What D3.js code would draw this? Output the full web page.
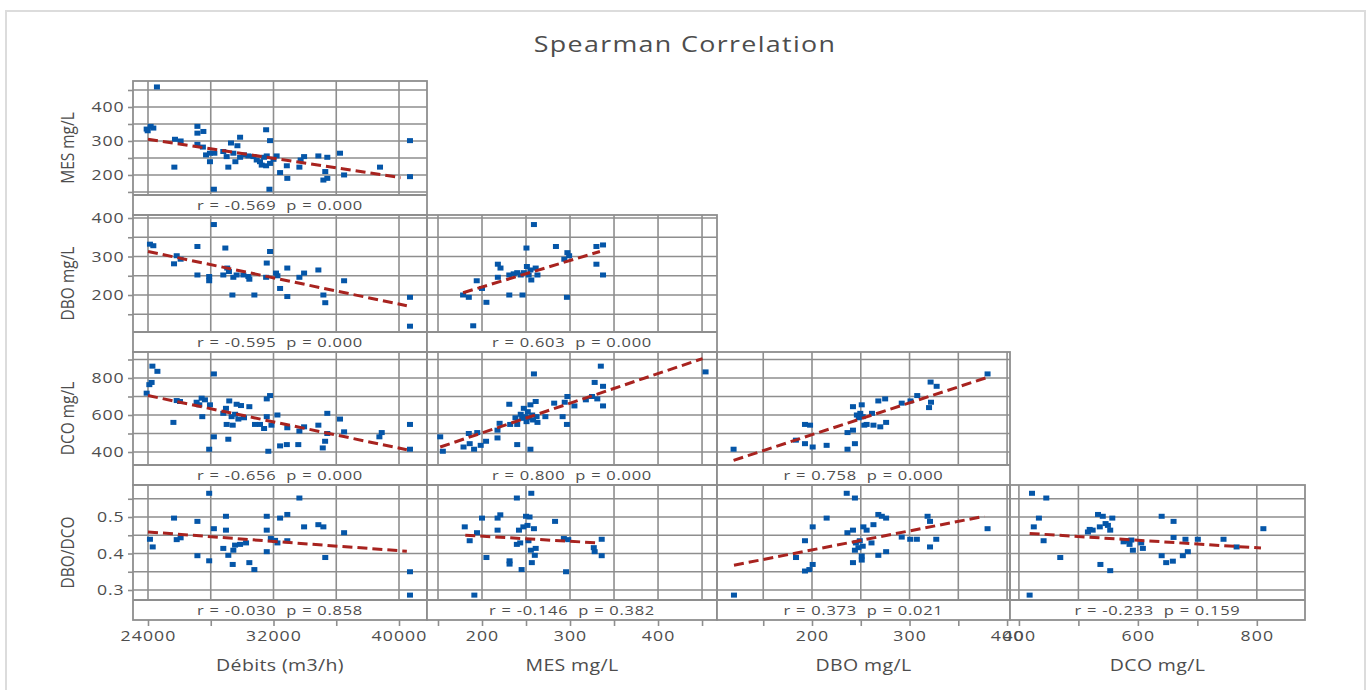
<!DOCTYPE html>
<html><head><meta charset="utf-8">
<script src="https://cdn.jsdelivr.net/npm/d3@7"></script>
<style>
body{margin:0;background:#fff}
svg{display:block}
text{font-family:"Open Sans",sans-serif;fill:#4d4d4d}
</style>
</head><body>
<svg id="chart" width="1371" height="690"></svg>
<script>
// ---------- chart data ----------
const chartTitle = "Spearman Correlation";
const colTitles = ["Débits (m3/h)", "MES mg/L", "DBO mg/L", "DCO mg/L"];
const rowTitles = ["MES mg/L", "DBO mg/L", "DCO mg/L", "DBO/DCO"];

const colDomains = [[23044, 41785], [137.5, 467], [102.6, 403], [385, 881]];
const rowDomains = [[141, 476.5], [103.9, 407.8], [329.7, 940.5], [0.2726, 0.5877]];

const colGrid = [[24000, 28000, 32000, 36000, 40000], [150, 200, 250, 300, 350, 400, 450], [150, 200, 250, 300, 350, 400], [400, 500, 600, 700, 800]];
const colTickLabels = [[24000, 32000, 40000], [200, 300, 400], [200, 300, 400], [400, 600, 800]];
const rowGrid = [[150, 200, 250, 300, 350, 400, 450], [150, 200, 250, 300, 350, 400], [400, 500, 600, 700, 800, 900], [0.3, 0.35, 0.4, 0.45, 0.5, 0.55]];
const rowTickLabels = [[200, 300, 400], [200, 300, 400], [400, 600, 800], [0.3, 0.4, 0.5]];

// scatter pairs [x, y]
const ptsMesDeb = [[24570,459],[23915,335],[24170,343],[24340,338],[23980,330],[25680,223],[25720,305],[26080,300],[27150,343],[27150,323],[27530,328],[27150,290],[27500,282],[27700,259],[27950,264],[27950,239],[28200,158],[28230,264],[28800,269],[29015,254],[29120,223],[29290,294],[29440,264],[29570,239],[29700,286],[29870,311],[29870,252],[30120,259],[30400,256],[30720,254],[30930,244],[31140,239],[31250,229],[31400,252],[31530,333],[31530,227],[31570,256],[31740,158],[31780,301],[31780,234],[32000,246],[32200,256],[32420,207],[32850,227],[32880,190],[33650,223],[33730,244],[33950,254],[34860,256],[35180,185],[35300,210],[35430,252],[35430,190],[36240,264],[36500,200],[38790,223],[40700,301],[40700,195]];
const ptsDboDeb = [[24125,332],[24340,328],[25660,281],[25830,302],[26080,293],[27150,326],[27150,252],[27900,248],[27900,237],[28200,383],[28800,252],[28930,322],[29050,270],[29160,261],[29380,200],[29440,246],[29650,252],[30080,252],[30400,248],[30460,241],[30780,200],[31570,283],[31530,246],[31780,313],[32160,257],[32250,250],[32420,217],[32880,270],[32880,196],[33650,246],[33950,257],[34860,265],[35180,200],[35300,180],[36500,237],[40700,194],[40700,119]];
const ptsDboMes = [[178.5,200],[185,194],[190,120],[194,237],[200,217],[205,181],[218,280],[221,270],[218,246],[231,252],[231,200],[236,255],[240,258],[244,252],[246,200],[247.5,258],[250.5,322],[251,274],[253,252],[255,265],[256,239],[259,383],[261,270],[263,252],[284,326],[297,310],[296.5,194],[299,302],[293.5,293],[330,326],[330,280],[337.5,330],[337.5,252]];
const ptsDcoDeb = [[23915,718],[24085,764],[24230,776],[24280,864],[24600,836],[25620,560],[25830,678],[26040,673],[27100,669],[27270,655],[27420,691],[27460,591],[27630,682],[27950,655],[27900,415],[28200,822],[28200,482],[28800,609],[28970,636],[29015,549],[29120,469],[29180,676],[29330,591],[29400,545],[29550,604],[29650,658],[29760,578],[29930,651],[30120,585],[30460,645],[30820,549],[31140,549],[31400,527],[31570,687],[31570,591],[31670,404],[31780,705],[31870,545],[32250,600],[32420,433],[32850,440],[32880,531],[33580,440],[33650,513],[33950,536],[34860,545],[35140,422],[35290,458],[35430,609],[35430,500],[36240,578],[36500,509],[38750,482],[38900,505],[40700,549],[40700,415]];
const ptsDcoMes = [[152.5,482],[155.5,404],[179,427],[185,500],[186,445],[191,415],[194.6,505],[198.5,436],[204.6,458],[217.6,518],[217.6,476],[220,555],[231,658],[232,549],[238,585],[240,440],[240,549],[244,604],[245.6,582],[247.5,636],[249.4,591],[250.6,564],[252,618],[253,585],[255,415],[255,655],[257,600],[258,573],[259,822],[261,673],[262,591],[263,560],[272,591],[282,664],[291.6,591],[294,669],[296.5,549],[297,700],[305,649],[318,682],[325,700],[328,776],[331,687],[335,864],[337.5,755],[337.5,649],[454,833]];
const ptsDcoDbo = [[119.6,415],[183.5,464],[192.8,549],[198,545],[192.8,445],[200.7,427],[215,436],[236.4,415],[236.4,505],[242,518],[244,445],[242,645],[251,655],[246,600],[248,585],[249.5,609],[252,591],[253.6,545],[256,549],[261.5,609],[263,545],[268,676],[270,536],[275,687],[276,560],[292,664],[301,676],[307.9,705],[320,640],[322,669],[321.6,778],[327.8,755],[380,822]];
const ptsRatioDeb = [[24125,0.439],[24300,0.418],[25660,0.497],[25830,0.438],[26080,0.443],[27150,0.488],[27150,0.394],[27900,0.565],[27900,0.380],[28200,0.468],[28800,0.414],[28970,0.502],[28970,0.464],[29120,0.395],[29400,0.370],[29440,0.409],[29550,0.423],[29870,0.425],[30250,0.429],[30460,0.375],[30780,0.356],[31570,0.502],[31570,0.464],[31570,0.405],[31830,0.441],[32100,0.436],[32250,0.429],[32420,0.497],[32880,0.507],[32880,0.435],[33650,0.552],[33950,0.473],[34860,0.479],[35180,0.473],[35300,0.389],[36500,0.457],[40700,0.350],[40700,0.286]];
const ptsRatioMes = [[180.4,0.473],[186,0.435],[191.3,0.286],[194.3,0.457],[200,0.497],[205,0.389],[217.7,0.464],[217.7,0.497],[220.8,0.506],[231.3,0.380],[231.3,0.371],[239.6,0.552],[239.6,0.425],[242,0.464],[243.4,0.429],[245,0.356],[247,0.473],[250,0.502],[251.7,0.477],[252.8,0.435],[254,0.500],[255.5,0.409],[256,0.565],[256.6,0.375],[259,0.468],[260,0.395],[261,0.414],[283,0.488],[293,0.441],[295.5,0.350],[298,0.438],[327,0.416],[328,0.405],[336,0.439],[336,0.394]];
const ptsRatioDbo = [[120,0.286],[183.6,0.389],[192.8,0.435],[192.8,0.352],[197.3,0.356],[200.7,0.370],[200.7,0.473],[215,0.497],[235.6,0.565],[244,0.552],[236.3,0.457],[242,0.464],[242,0.375],[245,0.429],[244,0.409],[247.6,0.416],[249,0.435],[251,0.393],[251,0.382],[252.7,0.473],[256,0.464],[252,0.420],[261,0.429],[263,0.479],[268,0.395],[268,0.507],[271.6,0.502],[276,0.497],[276,0.405],[292,0.445],[300.7,0.439],[307.5,0.439],[318.5,0.502],[321,0.488],[321,0.418],[327.4,0.439],[380,0.468]];
const ptsRatioDco = [[418,0.286],[422,0.565],[425,0.473],[433.6,0.497],[441.5,0.435],[446,0.552],[469.5,0.389],[516,0.459],[519,0.466],[524,0.464],[533,0.507],[536,0.473],[537,0.370],[541,0.502],[545.7,0.482],[549.6,0.477],[553.5,0.464],[553.5,0.353],[557,0.497],[576,0.432],[583,0.435],[586,0.425],[591.6,0.409],[589,0.437],[605.6,0.429],[608.4,0.414],[640,0.502],[640,0.394],[647.6,0.375],[658.8,0.379],[660,0.488],[660,0.444],[675.6,0.394],[680,0.439],[684,0.405],[700.8,0.439],[744,0.439],[766,0.418],[811,0.468]];

// fitted regression line end points [x, y]
const fitMesDeb = [[24000,305],[40100,192]];
const fitDboDeb = [[24000,313],[40500,172]];
const fitDboMes = [[178.5,206],[334,313]];
const fitDcoDeb = [[24000,705],[40500,412]];
const fitDcoMes = [[152.5,427],[450.6,905]];
const fitDcoDbo = [[119.6,355],[378,800]];
const fitRatioDeb = [[24000,0.459],[40500,0.406]];
const fitRatioMes = [[181,0.450],[332,0.429]];
const fitRatioDbo = [[120,0.368],[376.7,0.502]];
const fitRatioDco = [[418,0.455],[807,0.415]];

const rValues = ["-0.569","-0.595","0.603","-0.656","0.800","0.758","-0.030","-0.146","0.373","-0.233"];
const pValues = ["0.000","0.000","0.000","0.000","0.000","0.000","0.858","0.382","0.021","0.159"];

const panelDefs = [
  [0,0,ptsMesDeb,fitMesDeb],
  [1,0,ptsDboDeb,fitDboDeb],[1,1,ptsDboMes,fitDboMes],
  [2,0,ptsDcoDeb,fitDcoDeb],[2,1,ptsDcoMes,fitDcoMes],[2,2,ptsDcoDbo,fitDcoDbo],
  [3,0,ptsRatioDeb,fitRatioDeb],[3,1,ptsRatioMes,fitRatioMes],[3,2,ptsRatioDbo,fitRatioDbo],[3,3,ptsRatioDco,fitRatioDco]
];

// ---------- layout ----------
const colEdges = [133, 427, 717, 1010, 1305];
const rowEdges = [81, 215, 352, 485, 620];
const stripH = 20;
const SX = 1.22; // horizontal text stretch
const gridColor = "#8e8e8e";
const pointColor = "#0556a8";
const fitColor = "#a8231f";

const svg = d3.select("#chart");

// outer frame
svg.append("rect").attr("x",6).attr("y",11).attr("width",1359).attr("height",690)
  .attr("fill","none").attr("stroke","#dcdcdc").attr("stroke-width",2);

function stretchText(parent, x, y, str, size, anchor, rotate) {
  const sc = rotate ? `scale(1,${SX})` : `scale(${SX},1)`;
  const g = parent.append("g").attr("transform",
    `translate(${x},${y})` + (rotate ? ` rotate(${rotate})` : "") + ` ${sc}`);
  return g.append("text").attr("text-anchor", anchor || "middle").attr("font-size", size).text(str);
}

stretchText(svg, 685, 52, chartTitle, 22, "middle").attr("fill","#555").attr("letter-spacing", 1.1);

const xScales = colDomains.map((d,i) => d3.scaleLinear().domain(d).range([colEdges[i], colEdges[i+1]]));
const yScales = rowDomains.map((d,i) => d3.scaleLinear().domain(d).range([rowEdges[i+1]-stripH, rowEdges[i]]));

panelDefs.forEach(([r,c,pts,fit], k) => {
  const xs = xScales[c], ys = yScales[r];
  const L = colEdges[c], R = colEdges[c+1], T = rowEdges[r], B = rowEdges[r+1], S = B - stripH;
  const g = svg.append("g");
  // grid
  g.selectAll("line.v").data(colGrid[c]).join("line")
    .attr("x1", d => xs(d)).attr("x2", d => xs(d)).attr("y1", T).attr("y2", S)
    .attr("stroke", gridColor).attr("stroke-width", 1.6);
  g.selectAll("line.h").data(rowGrid[r]).join("line")
    .attr("x1", L).attr("x2", R).attr("y1", d => ys(d)).attr("y2", d => ys(d))
    .attr("stroke", gridColor).attr("stroke-width", 1.6);
  // strip background and border
  g.append("rect").attr("x", L).attr("y", S).attr("width", R-L).attr("height", stripH).attr("fill","#fff");
  g.append("rect").attr("x", L).attr("y", T).attr("width", R-L).attr("height", B-T)
    .attr("fill","none").attr("stroke", gridColor).attr("stroke-width", 1.8);
  g.append("line").attr("x1", L).attr("x2", R).attr("y1", S).attr("y2", S)
    .attr("stroke", gridColor).attr("stroke-width", 1.8);
  // points
  g.selectAll("rect.pt").data(pts).join("rect")
    .attr("x", d => xs(d[0]) - 3).attr("y", d => ys(d[1]) - 2.5)
    .attr("width", 6).attr("height", 5).attr("fill", pointColor);
  // fit line
  g.append("path").datum(fit)
    .attr("d", d3.line().x(d => xs(d[0])).y(d => ys(d[1])))
    .attr("fill","none").attr("stroke", fitColor).attr("stroke-width", 3)
    .attr("stroke-dasharray","10,5");
  // stats
  stretchText(g, (L+R)/2, B - 5, `r = ${rValues[k]}  p = ${pValues[k]}`, 13.5, "middle")
    .attr("letter-spacing", 0.6).style("white-space","pre");
});

// y axes (left column)
rowTitles.forEach((t, r) => {
  const fmt = v => rowTickLabels[r].includes(v) ? String(v) : "";
  const ax = svg.append("g").attr("transform", `translate(${colEdges[0]},0)`)
    .call(d3.axisLeft(yScales[r]).tickValues(rowGrid[r]).tickFormat(fmt).tickSize(5).tickPadding(2));
  ax.select(".domain").remove();
  ax.selectAll(".tick line").attr("stroke", gridColor).attr("stroke-width", 1.6);
  ax.selectAll(".tick text").attr("font-size", 14.5).attr("font-family", "Open Sans").attr("fill", "#4d4d4d")
    .attr("letter-spacing", 0.7).attr("transform", `scale(${SX},1)`);
  stretchText(svg, 74, (rowEdges[r] + rowEdges[r+1]) / 2, t, 15.5, "middle", -90);
});

// x axes (bottom row)
colTitles.forEach((t, c) => {
  const fmt = v => colTickLabels[c].includes(v) ? String(v) : "";
  const ax = svg.append("g").attr("transform", `translate(0,${rowEdges[4]})`)
    .call(d3.axisBottom(xScales[c]).tickValues(colGrid[c]).tickFormat(fmt).tickSize(6).tickPadding(5));
  ax.select(".domain").remove();
  ax.selectAll(".tick line").attr("stroke", gridColor).attr("stroke-width", 1.6);
  ax.selectAll(".tick text").attr("font-size", 14.5).attr("font-family", "Open Sans").attr("fill", "#4d4d4d")
    .attr("letter-spacing", 0.9).attr("transform", `scale(${SX},1)`);
  stretchText(svg, (colEdges[c] + colEdges[c+1]) / 2, 671, t, 16, "middle").attr("letter-spacing", 0.3);
});
</script>
</body></html>
